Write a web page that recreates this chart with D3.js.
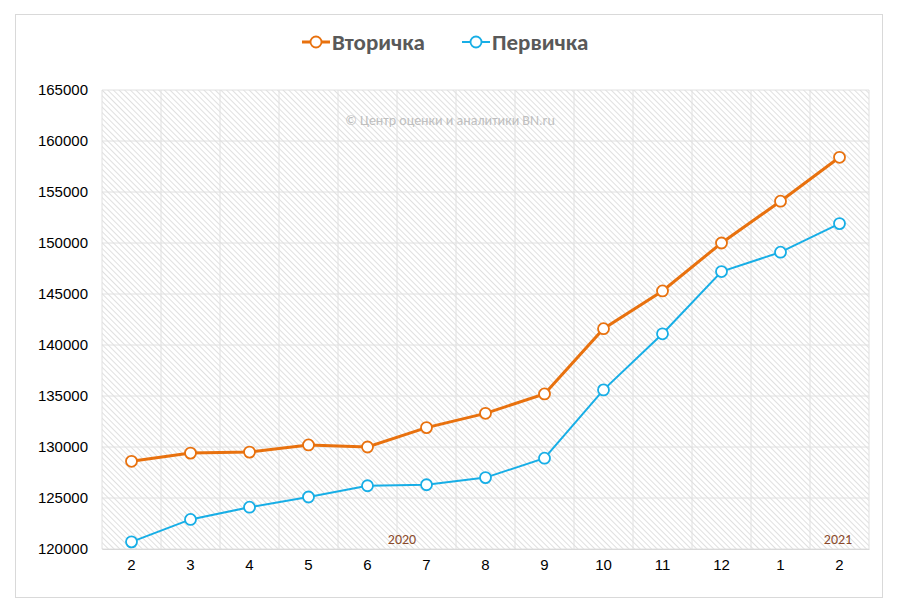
<!DOCTYPE html>
<html><head><meta charset="utf-8">
<script src="https://cdn.jsdelivr.net/npm/d3@7"></script>
<style>body{margin:0;background:#fff}svg{font-family:Calibri,"Open Sans",sans-serif}</style>
</head><body><svg width="900" height="611"></svg>
<script>
const months=["2","3","4","5","6","7","8","9","10","11","12","1","2"];
const vtorichka=[128600,129400,129500,130200,130000,131900,133300,135200,141600,145300,150000,154100,158400];
const pervichka=[120700,122900,124100,125100,126200,126300,127000,128900,135600,141100,147200,149100,151900];
const yTicks=[120000,125000,130000,135000,140000,145000,150000,155000,160000,165000];

const svg=d3.select('svg');
svg.append('rect').attr('x',15.5).attr('y',14.5).attr('width',867).attr('height',583).attr('fill','#fff').attr('stroke','#d9d9d9');

const m={l:102,r:869,t:90,b:549};
const x=d3.scaleBand().domain(d3.range(months.length)).range([m.l,m.r]);
const y=d3.scaleLinear().domain([120000,165000]).range([m.b,m.t]);

// hatch background
const pat=svg.append('defs').append('pattern').attr('id','hatch').attr('patternUnits','userSpaceOnUse')
 .attr('width',4).attr('height',4).attr('patternTransform','rotate(-45)');
pat.append('rect').attr('width',4).attr('height',4).attr('fill','#fff');
pat.append('line').attr('x1',0).attr('y1',0).attr('x2',0).attr('y2',4).attr('stroke','#d0d0d0').attr('stroke-width',1.3);
svg.append('rect').attr('x',m.l).attr('y',m.t).attr('width',m.r-m.l).attr('height',m.b-m.t).attr('fill','url(#hatch)');

// grid
svg.append('g').selectAll('line').data(yTicks).join('line')
 .attr('x1',m.l).attr('x2',m.r).attr('y1',d=>y(d)).attr('y2',d=>y(d)).attr('stroke','#e0e0e0');
svg.append('g').selectAll('line').data(d3.range(months.length+1)).join('line')
 .attr('x1',d=>m.l+d*x.step()).attr('x2',d=>m.l+d*x.step()).attr('y1',m.t).attr('y2',m.b).attr('stroke','#e0e0e0');

// axes
const ya=svg.append('g').attr('transform',`translate(${m.l},0)`).call(d3.axisLeft(y).tickValues(yTicks).tickSize(0).tickPadding(14).tickFormat(d3.format('d')));
ya.select('.domain').remove();
ya.selectAll('text').attr('font-size',15).attr('fill','#000');
const xa=svg.append('g').attr('transform',`translate(0,${m.b})`).call(d3.axisBottom(x).tickSize(0).tickPadding(10).tickFormat(i=>months[i]));
xa.select('.domain').attr('stroke','#d9d9d9');
xa.selectAll('text').attr('font-size',15).attr('fill','#000');

svg.append('text').attr('x',450).attr('y',125).attr('text-anchor','middle').attr('font-size',14).attr('fill','#bfbfbf').text('© Центр оценки и аналитики BN.ru');
svg.append('text').attr('x',402).attr('y',544).attr('text-anchor','middle').attr('font-size',14).attr('fill','#8b4a2b').text('2020');
svg.append('text').attr('x',838).attr('y',544).attr('text-anchor','middle').attr('font-size',14).attr('fill','#8b4a2b').text('2021');

const cx=i=>x(i)+x.bandwidth()/2;
const series=[{name:'Вторичка',vals:vtorichka,c:'#e8710e',w:3},{name:'Первичка',vals:pervichka,c:'#17aee6',w:2}];
series.forEach(s=>{
 svg.append('path').datum(s.vals).attr('fill','none').attr('stroke',s.c).attr('stroke-width',s.w)
  .attr('d',d3.line().x((d,i)=>cx(i)).y(d=>y(d)));
 svg.append('g').selectAll('circle').data(s.vals).join('circle')
  .attr('cx',(d,i)=>cx(i)).attr('cy',d=>y(d)).attr('r',5.5).attr('fill','#fff').attr('stroke',s.c).attr('stroke-width',1.8);
});

// legend
const leg=[{x:302,tx:332},{x:462,tx:492}];
series.forEach((s,i)=>{
 const g=svg.append('g');
 g.append('line').attr('x1',leg[i].x).attr('x2',leg[i].x+28).attr('y1',42).attr('y2',42).attr('stroke',s.c).attr('stroke-width',s.w);
 g.append('circle').attr('cx',leg[i].x+14).attr('cy',42).attr('r',5.5).attr('fill','#fff').attr('stroke',s.c).attr('stroke-width',1.8);
 g.append('text').attr('x',leg[i].tx).attr('y',50).attr('font-size',23).attr('font-weight','bold').attr('fill','#595959').text(s.name);
});
</script></body></html>
